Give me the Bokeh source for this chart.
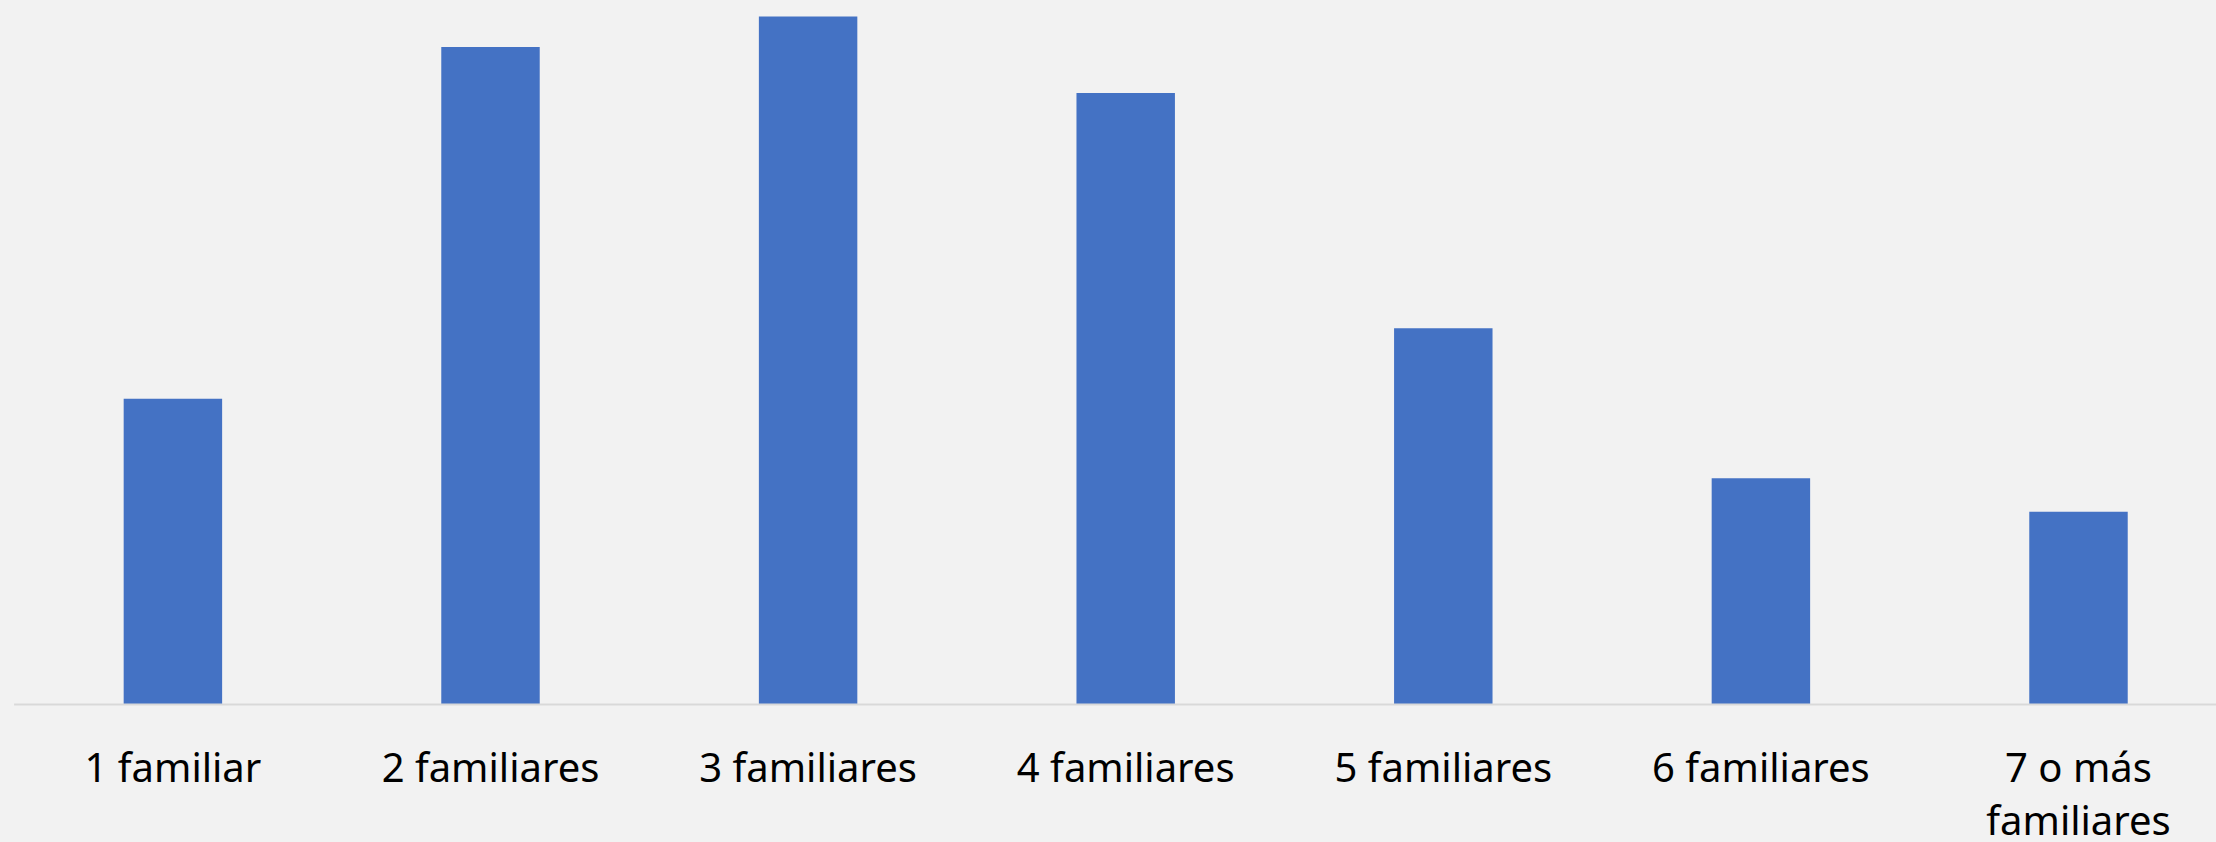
from bokeh.plotting import figure
from bokeh.models import Range1d, ColumnDataSource
from bokeh.embed import file_html
from bokeh.resources import INLINE
from bokeh.core.properties import value

# ---- data ----
categories = ["1 familiar", "2 familiares", "3 familiares", "4 familiares",
              "5 familiares", "6 familiares", "7 o más\nfamiliares"]
values = [10.0, 21.5, 22.5, 20.0, 12.3, 7.4, 6.3]

# ---- layout ----
W, H = 2216, 842
cat_px = 317.6          # pixels per category
unit_px = 30.58         # pixels per value unit
axis_px = 704           # baseline position from top of figure
first_center_px = 172.4 # centre of first category from left

x_start = -first_center_px / cat_px
x_end = x_start + W / cat_px
y_end = axis_px / unit_px
y_start = -(H - axis_px) / unit_px

xs = list(range(len(categories)))
src = ColumnDataSource(dict(x=xs, top=values, label=categories, zero=[0] * len(xs)))

p = figure(width=W, height=H, output_backend="svg", toolbar_location=None,
           x_range=Range1d(x_start, x_end), y_range=Range1d(y_start, y_end),
           x_axis_type=None, y_axis_type=None, min_border=0)
p.background_fill_color = "#F2F2F2"
p.border_fill_color = "#F2F2F2"
p.outline_line_color = None
p.grid.visible = False

p.vbar(x="x", top="top", bottom=0, width=0.31, source=src,
       fill_color="#4472C4", line_color=None)

# baseline (category axis line)
p.segment(x0=[-0.5], y0=[0], x1=[x_end], y1=[0], line_color="#D9D9D9", line_width=2)

# category labels
p.text(x="x", y="zero", text="label", source=src, text_align="center",
       text_baseline="top", y_offset=34, text_font=value("Noto Sans"),
       text_font_size="40px", text_color="#000000", text_line_height=0.97)

TEMPLATE = """{% block preamble %}<style>html, body { background: #F2F2F2; }</style>{% endblock %}"""

open("out.html", "w").write(file_html(p, INLINE, title="chart", template=TEMPLATE))
